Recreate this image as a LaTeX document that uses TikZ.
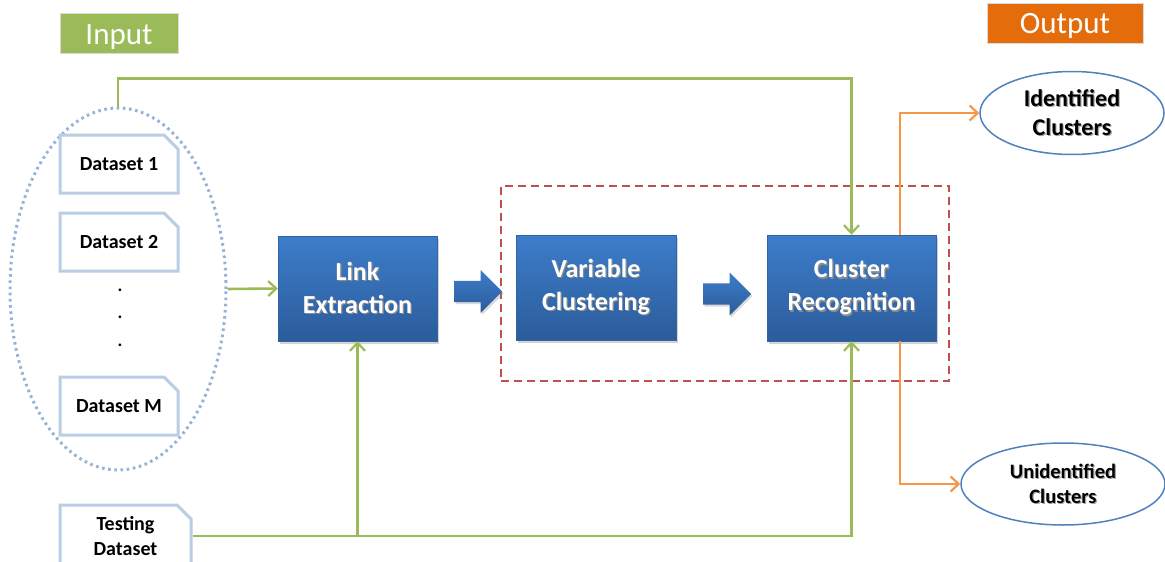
\documentclass[tikz,border=0pt]{standalone}
\usepackage{fontspec}
\setmainfont{Carlito}
\usetikzlibrary{shapes.misc,shapes.arrows,shapes.geometric,shadows,arrows.meta}

\definecolor{lgreen}{HTML}{9BBB59}
\definecolor{lorange}{HTML}{E46C0A}
\definecolor{aorange}{HTML}{F79646}
\definecolor{dsborder}{HTML}{B9CDE5}
\definecolor{ellblue}{HTML}{95B3D7}
\definecolor{btop}{HTML}{3D7DCA}
\definecolor{bbot}{HTML}{2B5C9B}
\definecolor{redd}{HTML}{C0504D}
\definecolor{ovalblue}{HTML}{4F81BD}

% text with a soft offset shadow
\newcommand\shd[2][black!45]{\leavevmode\rlap{\hspace{1.2pt}\raisebox{-1.2pt}{\textcolor{#1}{#2}}}#2}

\tikzset{
  dsbox/.style={draw=dsborder, line width=3pt, fill=white,
    chamfered rectangle, chamfered rectangle corners=north east,
    chamfered rectangle xsep=7pt, chamfered rectangle ysep=7pt,
    minimum width=118, minimum height=58, inner sep=2pt,
    font=\bfseries\fontsize{20}{25}\selectfont, align=center},
  proc/.style={rectangle, top color=btop, bottom color=bbot, draw=btop!80!black, line width=0.4pt,
    drop shadow={shadow xshift=2pt, shadow yshift=-2.5pt, opacity=0.35},
    text=white, font=\bfseries\fontsize{26}{33}\selectfont, align=center},
  barrow/.style={single arrow, anchor=tail, top color=btop, bottom color=bbot, draw=none,
    drop shadow={shadow xshift=1.5pt, shadow yshift=-2pt, opacity=0.3},
    inner xsep=0pt, inner ysep=10.5pt, single arrow head extend=11pt,
    minimum height=48, shape border rotate=0},
  tag/.style={draw=black!15, line width=1pt, text=white, minimum height=40,
    text height=22pt, text depth=0pt, font=\fontsize{31}{31}\selectfont},
  oval/.style={ellipse, draw=ovalblue, line width=1.5pt, fill=white, align=center, inner sep=0pt},
  gline/.style={draw=lgreen, line width=2.6pt, -{Straight Barb[length=8pt,width=15pt,line width=2.2pt]}},
  oline/.style={draw=aorange, line width=2.6pt, -{Straight Barb[length=8pt,width=15pt,line width=2.2pt]}},
}

\begin{document}
\begin{tikzpicture}[x=1pt,y=-1pt]
\useasboundingbox (0,0) rectangle (1165,562);

% section tags
\node[tag, fill=lgreen, minimum width=118] (inlab) at (119,33) {Input};
\node[tag, fill=lorange, minimum width=156] (outlab) at (1065,23) {Output};

% input group
\node[ellipse, draw=ellblue, line width=3pt, dash pattern=on 2.6pt off 3.6pt,
      minimum width=216, minimum height=362] (grp) at (118,289) {};
\node[dsbox] (d1) at (119,164) {Dataset 1};
\node[dsbox] (d2) at (119,242) {Dataset 2};
\node[font=\bfseries\fontsize{18}{20}\selectfont] (dot1) at (120,290) {.};
\node[font=\bfseries\fontsize{18}{20}\selectfont] (dot2) at (120,317) {.};
\node[font=\bfseries\fontsize{18}{20}\selectfont] (dot3) at (120,345) {.};
\node[dsbox] (dm) at (119,406) {Dataset M};
\node[dsbox, minimum width=131, minimum height=62] (test) at (125.5,536) {Testing\\Dataset};

% processing stages
\node[draw=redd, line width=2.5pt, dash pattern=on 8pt off 5pt,
      minimum width=448, minimum height=195] (stage) at (725,283.5) {};
\node[proc, minimum width=159, minimum height=105] (link) at (357.5,288.5) {\shd{Link}\\\shd{Extraction}};
\node[proc, minimum width=160, minimum height=105] (vclu) at (596,287.5) {\shd{Variable}\\\shd{Clustering}};
\node[proc, minimum width=169, minimum height=106] (crec) at (851.5,288) {\shd{Cluster}\\\shd{Recognition}};
\node[barrow] (a1) at (454,291.5) {};
\node[barrow] (a2) at (703,294) {};

% results
\node[oval, minimum width=184, minimum height=83,
      font=\bfseries\fontsize{24}{29}\selectfont] (idc) at (1072,113) {\shd[black!35]{Identified}\\\shd[black!35]{Clusters}};
\node[oval, minimum width=204, minimum height=82,
      font=\bfseries\fontsize{20.5}{25}\selectfont] (unc) at (1063,484) {\shd[black!35]{Unidentified}\\\shd[black!35]{Clusters}};

% connectors
\draw[gline] (grp.north) -- ++(0,-28) -| (crec.north);
\draw[gline] (grp.east) -- (link.west);
\coordinate (j) at (link.south |- test.east);
\draw[gline] (test.east) -| (crec.south);
\draw[gline] (j) -- (link.south);
\draw[oline] ([xshift=48.5pt]crec.north) |- (idc.west);
\draw[oline] ([xshift=48.5pt]crec.south) |- (unc.west);
\end{tikzpicture}
\end{document}
